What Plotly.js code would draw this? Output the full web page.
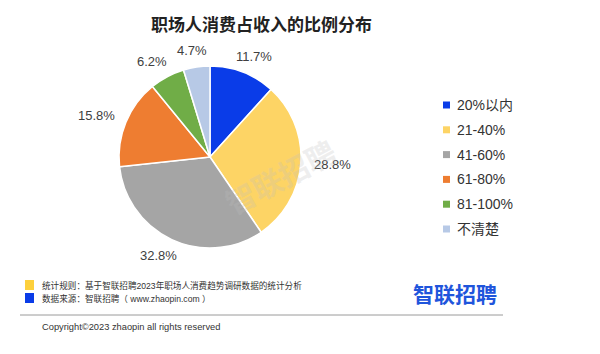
<!DOCTYPE html>
<html>
<head>
<meta charset="utf-8">
<script src="https://cdn.plot.ly/plotly-3.0.1.min.js"></script>
<style>html,body{margin:0;padding:0;background:#fff;}#chart{width:600px;height:354px;}</style>
</head>
<body>
<div id="chart"></div>
<script>
const categories = ["20%以内", "21-40%", "41-60%", "61-80%", "81-100%", "不清楚"];
const shares = [11.7, 28.8, 32.8, 15.8, 6.2, 4.7];
const colors = ["#0a3ce8", "#fdd465", "#a5a5a5", "#ee7d31", "#70ad47", "#b7c9e6"];
const titleText = "职场人消费占收入的比例分布";
const noteLines = ["统计规则：基于智联招聘2023年职场人消费趋势调研数据的统计分析", "数据来源：智联招聘（ www.zhaopin.com ）"];
const noteColors = ["#fdd03c", "#0a3ce8"];
const copyrightText = "Copyright©2023 zhaopin all rights reserved";
const brandText = "智联招聘";

const FONT = '"Liberation Sans", "Noto Sans CJK SC", sans-serif';
const W = 600, H = 354;
const px = x => x / W;
const py = y => 1 - y / H;

const cx = 210, cy = 157, r = 91;

const trace = {
  type: "pie",
  labels: categories,
  values: shares,
  sort: false,
  direction: "clockwise",
  rotation: 0,
  marker: {colors: colors, line: {color: "#ffffff", width: 1.5}},
  textinfo: "none",
  showlegend: false,
  hoverinfo: "none",
  domain: {x: [px(cx - r), px(cx + r)], y: [py(cy + r), py(cy - r)]}
};

const shapes = [];
const annotations = [];

// slice labels, placed outside each slice at its mid angle (derived from the data)
const total = shares.reduce((a, b) => a + b, 0);
let cum = 0;
shares.forEach((v) => {
  const mid = (cum + v / 2) / total * 2 * Math.PI;
  cum += v;
  const lx = cx + (r + 32) * Math.sin(mid);
  const ly = cy - (r + 17) * Math.cos(mid);
  annotations.push({text: v.toFixed(1) + "%", x: px(lx), y: py(ly), xref: "paper", yref: "paper",
    xanchor: "center", yanchor: "middle", showarrow: false,
    font: {family: FONT, size: 13, color: "#404040"}});
});

// title
annotations.push({text: "<b>" + titleText + "</b>", x: px(261), y: py(23), xref: "paper", yref: "paper",
  xanchor: "center", yanchor: "middle", showarrow: false,
  font: {family: '"Noto Sans CJK SC", sans-serif', size: 17, color: "#222222"}});

// watermark
annotations.push({text: "<b>" + brandText + "</b>", x: px(280), y: py(176), xref: "paper", yref: "paper",
  xanchor: "center", yanchor: "middle", showarrow: false, textangle: -28,
  font: {family: '"Noto Sans CJK SC", sans-serif', size: 30, color: "rgba(190,190,190,0.25)"}});

// custom legend
const legX = 443, legY0 = 105, legStep = 24.8, sq = 7;
categories.forEach((c, i) => {
  const y = legY0 + i * legStep;
  shapes.push({type: "rect", xref: "paper", yref: "paper",
    x0: px(legX), x1: px(legX + sq), y0: py(y - sq / 2), y1: py(y + sq / 2),
    fillcolor: colors[i], line: {width: 0}});
  annotations.push({text: c, x: px(legX + sq + 5), y: py(y), xref: "paper", yref: "paper",
    xanchor: "left", yanchor: "middle", showarrow: false,
    font: {family: FONT, size: 14, color: "#333333"}});
});

// footer notes
noteLines.forEach((t, i) => {
  const y = 285 + i * 13;
  shapes.push({type: "rect", xref: "paper", yref: "paper",
    x0: px(25), x1: px(34), y0: py(y + 5), y1: py(y - 5),
    fillcolor: noteColors[i], line: {width: 0}});
  annotations.push({text: t, x: px(40), y: py(y), xref: "paper", yref: "paper",
    xanchor: "left", yanchor: "middle", showarrow: false,
    font: {family: FONT, size: 8.6, color: "#333333"}});
});

// brand logo
annotations.push({text: "<b>" + brandText + "</b>", x: px(455), y: py(293), xref: "paper", yref: "paper",
  xanchor: "center", yanchor: "middle", showarrow: false,
  font: {family: '"Noto Sans CJK SC", sans-serif', size: 21, color: "#1f55dc"}});

// divider line
shapes.push({type: "line", xref: "paper", yref: "paper", x0: px(20), x1: px(503), y0: py(315), y1: py(315),
  line: {color: "#9a9a9a", width: 1}});

// copyright
annotations.push({text: copyrightText, x: px(40), y: py(327), xref: "paper", yref: "paper",
  xanchor: "left", yanchor: "middle", showarrow: false,
  font: {family: FONT, size: 9.3, color: "#333333"}});

const layout = {
  width: W, height: H,
  margin: {l: 0, r: 0, t: 0, b: 0},
  paper_bgcolor: "#ffffff",
  plot_bgcolor: "#ffffff",
  showlegend: false,
  shapes: shapes,
  annotations: annotations
};

Plotly.newPlot("chart", [trace], layout, {displayModeBar: false, staticPlot: true});
</script>
</body>
</html>
